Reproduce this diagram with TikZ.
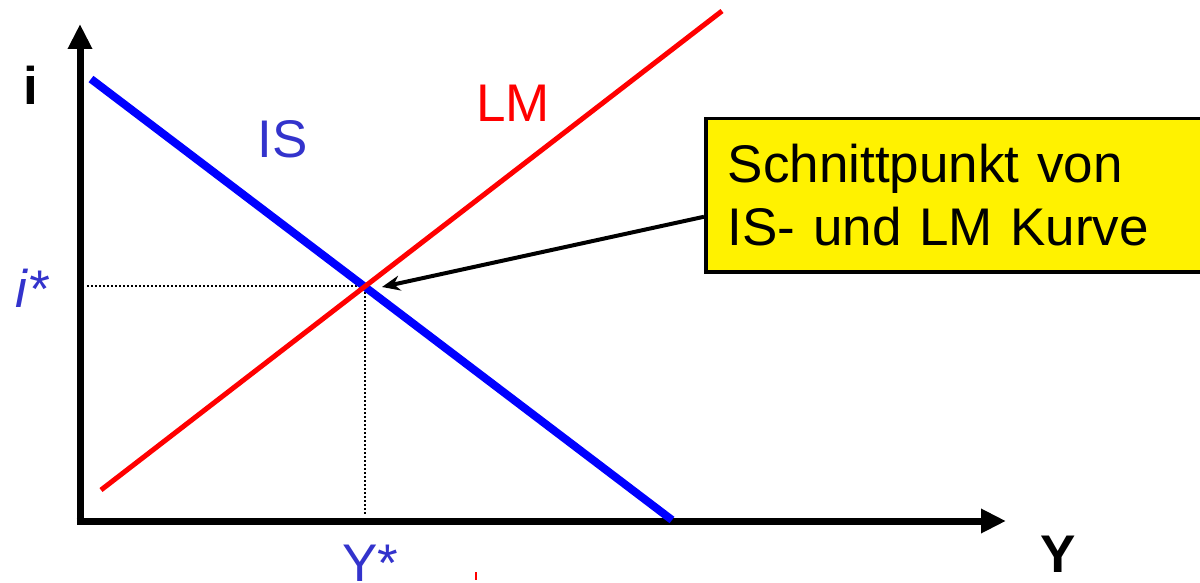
\documentclass[tikz,border=0pt]{standalone}
\usepackage{fontspec}
\setmainfont{Liberation Sans}
\usetikzlibrary{arrows.meta}
\definecolor{labelblue}{RGB}{51,51,204}
\begin{document}
\begin{tikzpicture}[x=0.5pt, y=-0.5pt,
   every node/.style={font=\fontsize{26.5}{31.5}\selectfont, inner sep=0pt},
   axis/.style={line width=3.5pt, -{Triangle[length=12.5pt,width=11.5pt]}},
   iscurve/.style={blue, line width=4pt},
   lmcurve/.style={red, line width=2.5pt},
   guide/.style={line width=0.75pt, dash pattern=on 0.75pt off 1.25pt},
   notebox/.style={draw, fill=yellow, line width=1.75pt, anchor=north west,
      text width=260pt, inner xsep=11pt, minimum height=76.5pt, align=left},
   pointer/.style={line width=2pt, -{Stealth[length=9pt,width=7.5pt]}}]
\useasboundingbox (0,0) rectangle (1200,583);
\clip (0,0) rectangle (1200,583);
\coordinate (ybase) at (80,524.5);
\coordinate (ytip)  at (80,24);
\coordinate (xbase) at (76.5,521);
\coordinate (xtip)  at (1006,521);
\coordinate (is1) at (91,79);
\coordinate (is2) at (672,520);
\coordinate (lm1) at (101,490);
\coordinate (lm2) at (722,11);
\coordinate (eq)    at (365,286);
\coordinate (eqtip) at (382,287);
\coordinate (iguide) at (87,286);
\coordinate (yguide) at (365,515);
\draw[axis] (ybase) -- (ytip);
\draw[axis] (xbase) -- (xtip);
\draw[guide] (iguide) -- (eq) -- (yguide);
\draw[iscurve] (is1) -- (is2);
\draw[lmcurve] (lm1) -- (lm2);
\node[notebox] (note) at (704,117) {Schnittpunkt von\\IS- und LM Kurve};
\draw[pointer] ([yshift=-10.75pt]note.west) -- (eqtip);
\node[anchor=base, font=\fontsize{26.5}{31.5}\selectfont\bfseries] (ilabel) at (31,105) {i};
\node[anchor=base, font=\fontsize{26.5}{31.5}\selectfont\bfseries] (ylabel) at (1058,572) {Y};
\node[anchor=base, labelblue] (islabel) at (283,158) {IS};
\node[anchor=base, red] (lmlabel) at (513,122) {LM};
\node[anchor=base, labelblue, font=\fontsize{26.5}{31.5}\selectfont\itshape] (istar) at (32,307) {i*};
\node[anchor=base, labelblue] (ystar) at (370,581) {Y*};
\draw[red, line width=0.6pt] (476,572) -- (476,580);
\end{tikzpicture}
\end{document}
